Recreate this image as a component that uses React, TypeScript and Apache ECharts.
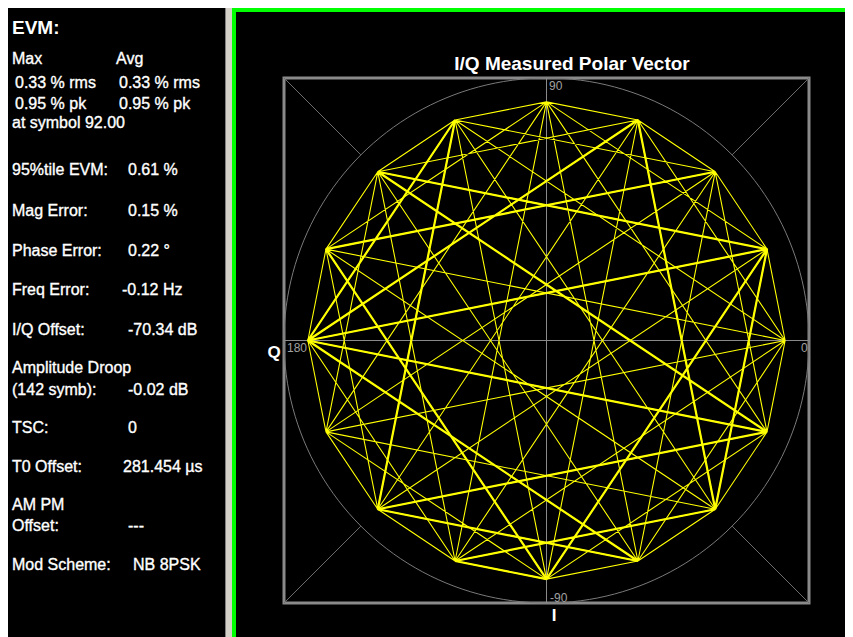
import React, { useEffect, useRef } from 'react';
import * as echarts from 'echarts';

// Constellation positions (normalised I / Q of the 16 phase states of NB 8PSK with 3π/8 rotation)
const symbolI = [1, 0.924, 0.707, 0.383, 0, -0.383, -0.707, -0.924, -1, -0.924, -0.707, -0.383, 0, 0.383, 0.707, 0.924];
const symbolQ = [0, 0.383, 0.707, 0.924, 1, 0.924, 0.707, 0.383, 0, -0.383, -0.707, -0.924, -1, -0.924, -0.707, -0.383];

// Symbol trace (indices into the constellation)
const traceSymbols = [
  0, 1, 2, 3, 4, 5, 6, 7, 8, 9, 10, 11, 12, 13, 14, 15, 0,
  5, 2, 7, 4, 9, 6, 11, 8, 13, 10, 15, 12, 1, 14, 3, 0,
  9, 2, 11, 4, 13, 6, 15, 8, 1, 10, 3, 12, 5, 14, 7, 0,
  13, 2, 15, 4, 1, 6, 3, 8, 5, 10, 7, 12, 9, 14, 11, 0,
];
// Transitions that were traversed repeatedly (drawn heavier)
const repeatedPaths = [
  [5, 8, 3, 14, 1, 6, 15, 8, 1, 12, 7, 2],
  [5, 10, 13, 8],
  [12, 11, 14],
  [10, 15],
];

const fullScale = 1.1;
const cornerGuides = [
  [-1.1, 1.1, -0.778, 0.778],
  [1.1, 1.1, 0.778, 0.778],
  [-1.1, -1.1, -0.778, -0.778],
  [1.1, -1.1, 0.778, -0.778],
];
const angleLabels = ['0', '90', '180', '-90'];

const chartTitle = 'I/Q Measured Polar Vector';
const evmTitle = 'EVM:';
const evmHeaders = ['Max', 'Avg'];
const evmMax = ['0.33 % rms', '0.95 % pk'];
const evmAvg = ['0.33 % rms', '0.95 % pk'];
const evmPeakAt = 'at symbol 92.00';
const metricNames = [
  ['95%tile EVM:'],
  ['Mag Error:'],
  ['Phase Error:'],
  ['Freq Error:'],
  ['I/Q Offset:'],
  ['Amplitude Droop', '(142 symb):'],
  ['TSC:'],
  ['T0 Offset:'],
  ['AM PM', 'Offset:'],
  ['Mod Scheme:'],
];
const metricValues = ['0.61 %', '0.15 %', '0.22 °', '-0.12 Hz', '-70.34 dB', '-0.02 dB', '0', '281.454 µs', '---', 'NB 8PSK'];

const FONT = '"Liberation Sans", Arial, Helvetica, sans-serif';
const NARROW = '"Liberation Sans Narrow", "Arial Narrow", "Liberation Sans", sans-serif';

function txt(text: string, x: number, y: number, opts: any = {}) {
  const style: any = {
    text,
    fill: opts.fill || '#ffffff',
    fontSize: opts.fontSize || 16,
    fontFamily: opts.fontFamily || FONT,
    fontWeight: opts.fontWeight || 'normal',
    align: opts.align || 'left',
    verticalAlign: 'middle',
  };
  if (opts.heavy) {
    style.stroke = style.fill;
    style.lineWidth = 0.35;
  }
  return { type: 'text', x, y, silent: true, z: 10, style };
}

export default function App() {
  const ref = useRef<HTMLDivElement>(null);

  useEffect(() => {
    document.body.style.overflow = 'hidden';
    const chart = echarts.init(ref.current!, null, { renderer: 'svg' });

    const toPoints = (seq: number[]) => seq.map((k) => [symbolI[k], symbolQ[k]]);

    // left panel texts
    const metricRowsY = [161, 202.5, 242.5, 281, 321, 359.5, 419.5, 458, 496, 556];
    const valueX = [120, 120, 120, 114, 120, 120, 120, 115, 120, 125];
    const H = { heavy: true };
    const graphics: any[] = [
      { type: 'rect', shape: { x: 218, y: 0, width: 6, height: 629 }, style: { fill: '#d4d0c8' }, silent: true },
      { type: 'rect', shape: { x: 217, y: 0, width: 1, height: 629 }, style: { fill: '#808080' }, silent: true },
      { type: 'rect', shape: { x: 224, y: 0, width: 4, height: 629 }, style: { fill: '#00ff00' }, silent: true },
      { type: 'rect', shape: { x: 224, y: 0, width: 621, height: 4 }, style: { fill: '#00ff00' }, silent: true },
      txt(evmTitle, 4, 19, { fontSize: 19, fontWeight: 'bold' }),
      txt(evmHeaders[0], 4, 50, H),
      txt(evmHeaders[1], 108, 50, H),
      txt(evmMax[0], 7, 74.5, H),
      txt(evmAvg[0], 111, 74.5, H),
      txt(evmMax[1], 7, 95.5, H),
      txt(evmAvg[1], 111, 95.5, H),
      txt(evmPeakAt, 4, 114, H),
    ];
    metricNames.forEach((lines, i) => {
      const y = metricRowsY[i];
      lines.forEach((line, j) => {
        graphics.push(txt(line, 4, y + j * 21.5, H));
      });
      graphics.push(txt(metricValues[i], valueX[i], y + (lines.length - 1) * 21.5, H));
    });

    // plot annotations
    graphics.push(txt(chartTitle, 564, 55, { fontSize: 19, fontWeight: 'bold', align: 'center' }));
    graphics.push(txt(angleLabels[1], 541, 77.5, { fontSize: 12, fontFamily: NARROW, fill: '#a0a0a0' }));
    graphics.push(txt(angleLabels[2], 279, 339.5, { fontSize: 12, fontFamily: NARROW, fill: '#a0a0a0' }));
    graphics.push(txt(angleLabels[0], 793, 340, { fontSize: 12, fontFamily: NARROW, fill: '#a0a0a0' }));
    graphics.push(txt(angleLabels[3], 542, 589.5, { fontSize: 12, fontFamily: NARROW, fill: '#a0a0a0' }));
    graphics.push(txt('Q', 266, 344.5, { fontSize: 17, fontWeight: 'bold', align: 'center' }));
    graphics.push(txt('I', 546, 607, { fontSize: 17, fontWeight: 'bold', align: 'center' }));

    const axisCommon = {
      type: 'value',
      min: -fullScale,
      max: fullScale,
      axisLine: { show: true, onZero: true, lineStyle: { color: '#8a8a8a', width: 1 } },
      axisTick: { show: false },
      axisLabel: { show: false },
      splitLine: { show: false },
    };

    const series: any[] = [
      {
        type: 'line',
        name: 'trace',
        data: toPoints(traceSymbols),
        showSymbol: false,
        symbol: 'none',
        silent: true,
        z: 3,
        lineStyle: { color: '#ffff00', width: 1.1 },
        markLine: {
          silent: true,
          symbol: ['none', 'none'],
          label: { show: false },
          lineStyle: { color: '#6c6c6c', width: 1, type: 'solid' },
          data: cornerGuides.map((c) => [{ coord: [c[0], c[1]] }, { coord: [c[2], c[3]] }]),
        },
      },
      ...repeatedPaths.map((p) => ({
        type: 'line',
        data: toPoints(p),
        showSymbol: false,
        symbol: 'none',
        silent: true,
        z: 4,
        lineStyle: { color: '#ffff00', width: 2.2 },
      })),
    ];

    chart.setOption({
      animation: false,
      backgroundColor: '#000000',
      grid: {
        left: 276,
        top: 70,
        width: 525,
        height: 525,
        show: true,
        borderColor: '#8a8a8a',
        borderWidth: 3,
        backgroundColor: 'transparent',
      },
      xAxis: axisCommon,
      yAxis: axisCommon,
      polar: { center: [538.5, 332.5], radius: 262.5 },
      angleAxis: {
        type: 'value',
        min: 0,
        max: 360,
        startAngle: 0,
        axisLine: { show: true, lineStyle: { color: '#7a7a7a', width: 1 } },
        axisTick: { show: false },
        axisLabel: { show: false },
        splitLine: { show: false },
      },
      radiusAxis: {
        type: 'value',
        min: 0,
        max: fullScale,
        axisLine: { show: false },
        axisTick: { show: false },
        axisLabel: { show: false },
        splitLine: { show: false },
      },
      series,
      graphic: graphics,
    });

    return () => chart.dispose();
  }, []);

  return <div ref={ref} style={{ width: 845, height: 629 }} />;
}
